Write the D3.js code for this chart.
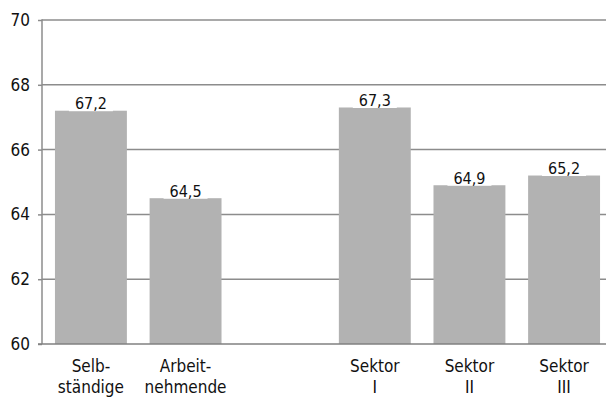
<!DOCTYPE html>
<html>
<head>
<meta charset="utf-8">
<script src="https://cdn.jsdelivr.net/npm/d3@7"></script>
<style>
  body { margin: 0; background: #fff; }
  svg text { font-family: "DejaVu Sans Condensed", "DejaVu Sans", sans-serif; font-stretch: condensed; fill: #111; }
</style>
</head>
<body>
<svg id="chart" width="606" height="397"></svg>
<script>
// data
const categories = ["Selb-|ständige", "Arbeit-|nehmende", "", "Sektor|I", "Sektor|II", "Sektor|III"];
const values = [67.2, 64.5, null, 67.3, 64.9, 65.2];
const yTicks = [60, 62, 64, 66, 68, 70];

const svg = d3.select("#chart");
const plotLeft = 42, plotRight = 613, plotTop = 20, plotBottom = 344;

const x = d3.scaleBand()
    .domain(categories.map((c, i) => i))
    .range([plotLeft, plotRight])
    .paddingInner(0.24)
    .paddingOuter(0.137);

const y = d3.scaleLinear().domain([60, 70]).range([plotBottom, plotTop]);

// gridlines
svg.append("g")
    .selectAll("line")
    .data(yTicks.slice(1))
    .join("line")
    .attr("x1", plotLeft).attr("x2", 606)
    .attr("y1", d => y(d)).attr("y2", d => y(d))
    .attr("stroke", "#8c8c8c")
    .attr("stroke-width", 1.5);

// bars
const rows = categories.map((c, i) => ({ i, label: c, v: values[i] })).filter(d => d.v != null);

svg.append("g")
    .selectAll("rect")
    .data(rows)
    .join("rect")
    .attr("x", d => x(d.i))
    .attr("width", x.bandwidth())
    .attr("y", d => y(d.v))
    .attr("height", d => y(60) - y(d.v))
    .attr("fill", "#b2b2b2");

// value labels with white box
const fmt = v => d3.format(".1f")(v).replace(".", ",");
const lab = svg.append("g").selectAll("g").data(rows).join("g")
    .attr("transform", d => `translate(${x(d.i) + x.bandwidth() / 2},${y(d.v)})`);
lab.append("rect")
    .attr("x", -22).attr("width", 44)
    .attr("y", -16).attr("height", 16.5)
    .attr("fill", "#fff");
lab.append("text")
    .attr("text-anchor", "middle")
    .attr("y", -1.5)
    .style("font-size", "16px")
    .text(d => fmt(d.v));

// y axis
const yAxis = svg.append("g")
    .attr("transform", `translate(${plotLeft},0)`)
    .call(d3.axisLeft(y).tickValues(yTicks).tickSize(4).tickPadding(8));
yAxis.select(".domain").remove();
yAxis.selectAll(".tick line").attr("stroke", "#8c8c8c").attr("stroke-width", 1.5);
yAxis.selectAll(".tick text").style("font-size", "17px").attr("fill", "#111");
svg.append("line")
    .attr("x1", plotLeft).attr("x2", plotLeft)
    .attr("y1", plotTop - 0.75).attr("y2", plotBottom)
    .attr("stroke", "#8c8c8c").attr("stroke-width", 1.5);

// x baseline
svg.append("line")
    .attr("x1", plotLeft - 4).attr("x2", 606)
    .attr("y1", plotBottom).attr("y2", plotBottom)
    .attr("stroke", "#808080").attr("stroke-width", 1.5);

// category labels (two lines)
const cat = svg.append("g").selectAll("text")
    .data(categories.map((c, i) => ({ i, lines: c.split("|") })).filter(d => d.lines[0]))
    .join("text")
    .attr("text-anchor", "middle")
    .style("font-size", "17px")
    .attr("transform", d => `translate(${x(d.i) + x.bandwidth() / 2},372)`);
cat.selectAll("tspan")
    .data(d => d.lines)
    .join("tspan")
    .attr("x", 0)
    .attr("dy", (d, k) => k ? 21 : 0)
    .text(d => d);
</script>
</body>
</html>
